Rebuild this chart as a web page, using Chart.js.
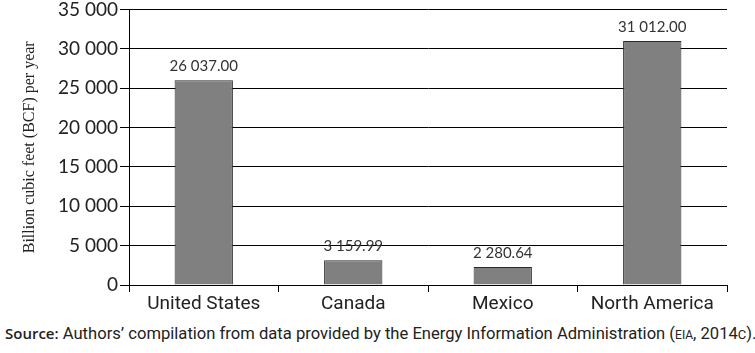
<!doctype html>
<html>
<head>
	<title>Natural gas consumption</title>
	<script src="https://cdn.jsdelivr.net/npm/chart.js@4"></script>
	<style>
	body { margin: 0; background: #fff; }
	#container { position: relative; width: 755px; height: 320px; }
	#source {
		position: absolute; left: 5px; top: 323px;
		font-family: Roboto, 'Liberation Sans', sans-serif;
		font-size: 16.6px; color: #222; white-space: nowrap;
	}
	#source b { font-family: 'Open Sans', sans-serif; font-weight: 600; font-size: 15px; }
	</style>
</head>
<body>
	<div id="container">
		<canvas id="canvas" width="755" height="320"></canvas>
	</div>
	<div id="source"><b>Source:</b> Authors’ compilation from data provided by the Energy Information Administration (<span style="font-size:12px">EIA</span>, 2014<span style="font-size:13px">C</span>).</div>
	<script>
		var categories = ['United States', 'Canada', 'Mexico', 'North America'];
		var consumption = [26037.00, 3159.99, 2280.64, 31012.00];
		var yTicks = [0, 5000, 10000, 15000, 20000, 25000, 30000, 35000];

		function spaced(v, dec) {
			var parts = v.toFixed(dec).split('.');
			var s = parts[0].replace(/\B(?=(\d{3})+(?!\d))/g, ' ');
			return parts.length > 1 ? s + '.' + parts[1] : s;
		}

		var barLabels = {
			id: 'barLabels',
			afterDatasetsDraw: function(chart) {
				var ctx = chart.ctx;
				var meta = chart.getDatasetMeta(0);
				ctx.save();
				ctx.font = '15px Lato, sans-serif';
				ctx.fillStyle = '#333';
				ctx.textAlign = 'center';
				ctx.textBaseline = 'bottom';
				meta.data.forEach(function(bar, i) {
					ctx.fillText(spaced(consumption[i], 2), bar.x, bar.y - 6);
				});
				ctx.restore();
			}
		};

		window.onload = function() {
			var ctx = document.getElementById('canvas').getContext('2d');
			window.myBar = new Chart(ctx, {
				type: 'bar',
				data: {
					labels: categories,
					datasets: [{
						data: consumption,
						backgroundColor: '#808080',
						borderColor: '#2a2a2a',
						borderWidth: 1,
						barPercentage: 0.39,
						categoryPercentage: 1
					}]
				},
				options: {
					responsive: false,
					animation: false,
					layout: { padding: { top: 0, right: 28, left: 20, bottom: 0 } },
					plugins: {
						legend: { display: false },
						tooltip: { enabled: false }
					},
					scales: {
						x: {
							grid: { offset: true, drawOnChartArea: false, color: '#000', tickLength: 7 },
							border: { color: '#000' },
							ticks: {
								color: '#222',
								font: { family: 'Roboto, sans-serif', size: 19 },
								padding: 1
							},
							afterFit: function(scale) { scale.height = 35; }
						},
						y: {
							min: 0,
							max: 35000,
							afterBuildTicks: function(scale) {
								scale.ticks = yTicks.map(function(v) { return { value: v }; });
							},
							grid: { color: '#000', tickLength: 9 },
							border: { color: '#000' },
							ticks: {
								color: '#222',
								font: { family: 'Lato, sans-serif', size: 19, lineHeight: 0.8 },
								padding: 2,
								callback: function(v) { return spaced(v, 0); }
							},
							title: {
								display: true,
								text: 'Billion cubic feet (BCF) per year',
								color: '#222',
								font: { family: "'Liberation Serif', serif", size: 16 },
								padding: { top: 0, bottom: 8 }
							},
							afterFit: function(scale) { scale.width = 109; }
						}
					}
				},
				plugins: [barLabels]
			});
		};
	</script>
</body>
</html>
